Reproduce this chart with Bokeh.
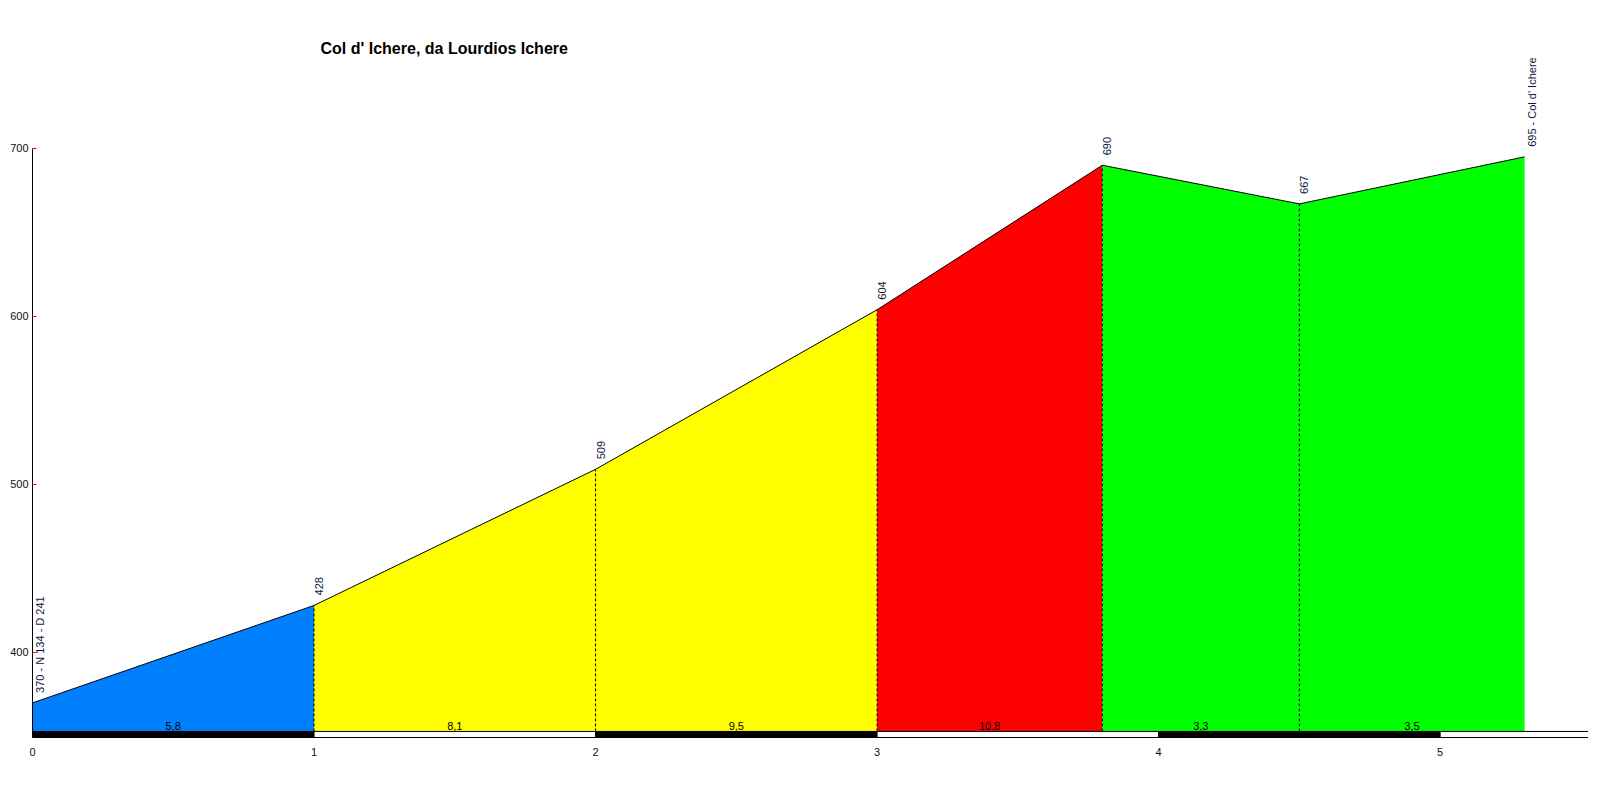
import math
from bokeh.plotting import figure
from bokeh.models import FixedTicker, Label, Range1d
from bokeh.core.properties import value
from bokeh.embed import file_html
from bokeh.resources import INLINE

# ---- data ----
km = [0, 1, 2, 3, 3.8, 4.5, 5.3]
alt = [370, 428, 509, 604, 690, 667, 695]
point_names = ["N 134 - D 241", "", "", "", "", "", "Col d' Ichere"]
grad_labels = ["5,8", "8,1", "9,5", "10,8", "3,3", "3,5"]
seg_colors = ["#0080FF", "#FFFF00", "#FFFF00", "#FF0000", "#00FF00", "#00FF00"]
x_ticks = [0, 1, 2, 3, 4, 5]
y_ticks = [400, 500, 600, 700]
title_text = "Col d' Ichere, da Lourdios Ichere"

# ---- layout constants ----
Y_MIN = 349.4
Y_MAX = 770.2
BAR_TOP = 353.0
X_MAX = 5.527
FONT = "Liberation Sans"

p = figure(frame_width=1556, frame_height=707, output_backend="svg",
           toolbar_location=None, x_range=Range1d(0, X_MAX),
           y_range=Range1d(Y_MIN, Y_MAX), min_border_left=32, min_border_right=0,
           min_border_top=30, min_border_bottom=0)
p.outline_line_color = None
p.xgrid.visible = False
p.ygrid.visible = False
p.background_fill_color = "white"

# filled segments
for i in range(len(km) - 1):
    p.varea(x=[km[i], km[i + 1]], y1=[BAR_TOP, BAR_TOP], y2=[alt[i], alt[i + 1]],
            fill_color=seg_colors[i])

# profile outline
p.line(km, alt, line_color="black", line_width=1)

# dashed verticals at interior points
p.segment(x0=km[1:-1], y0=[BAR_TOP] * (len(km) - 2), x1=km[1:-1], y1=alt[1:-1],
          line_color="black", line_width=1, line_dash="3 2")

# km bar
bar_left = x_ticks
bar_right = [t + 1 for t in x_ticks]
bar_colors = ["black" if i % 2 == 0 else "white" for i in range(len(x_ticks))]
p.quad(left=bar_left, right=bar_right, bottom=Y_MIN, top=BAR_TOP,
       fill_color=bar_colors, line_color="black", line_width=1)

# gradient labels
mids = [(km[i] + km[i + 1]) / 2 for i in range(len(km) - 1)]
p.text(x=mids, y=[BAR_TOP] * len(mids), text=grad_labels, text_align="center",
       text_baseline="bottom", y_offset=-1, text_font=value(FONT),
       text_font_size="11px", text_color="black")

# point labels
lbls = [f"{a} - {n}" if n else f"{a}" for a, n in zip(alt, point_names)]
p.text(x=km, y=alt, text=lbls, angle=math.pi / 2, text_align="left",
       text_baseline="top", x_offset=1, y_offset=-10, text_font=value(FONT),
       text_font_size="11px", text_color="#0d1a40")

# axes
p.xaxis.ticker = FixedTicker(ticks=x_ticks)
p.xaxis.major_tick_out = 0
p.xaxis.major_tick_in = 0
p.xaxis.minor_tick_line_color = None
p.xaxis.major_label_standoff = 10
p.xaxis.major_label_text_align = "left"
p.xaxis.major_label_text_font = FONT
p.xaxis.major_label_text_font_size = "11px"
p.xaxis.major_label_text_color = "#101020"
p.xaxis.axis_line_color = "black"

p.yaxis.ticker = FixedTicker(ticks=y_ticks)
p.yaxis.bounds = (Y_MIN, 700)
p.yaxis.major_tick_out = 0
p.yaxis.major_tick_in = 4
p.yaxis.major_tick_line_color = "red"
p.yaxis.minor_tick_line_color = None
p.yaxis.major_label_standoff = 4
p.yaxis.major_label_text_font = FONT
p.yaxis.major_label_text_font_size = "11px"
p.yaxis.major_label_text_color = "#101020"
p.yaxis.axis_line_color = "black"

# title
p.add_layout(Label(x=288, y=689, x_units="screen", y_units="screen",
                   text=title_text, text_font=FONT, text_font_size="16px",
                   text_font_style="bold", text_baseline="middle",
                   text_color="black"))

open("out.html", "w").write(file_html(p, INLINE))
